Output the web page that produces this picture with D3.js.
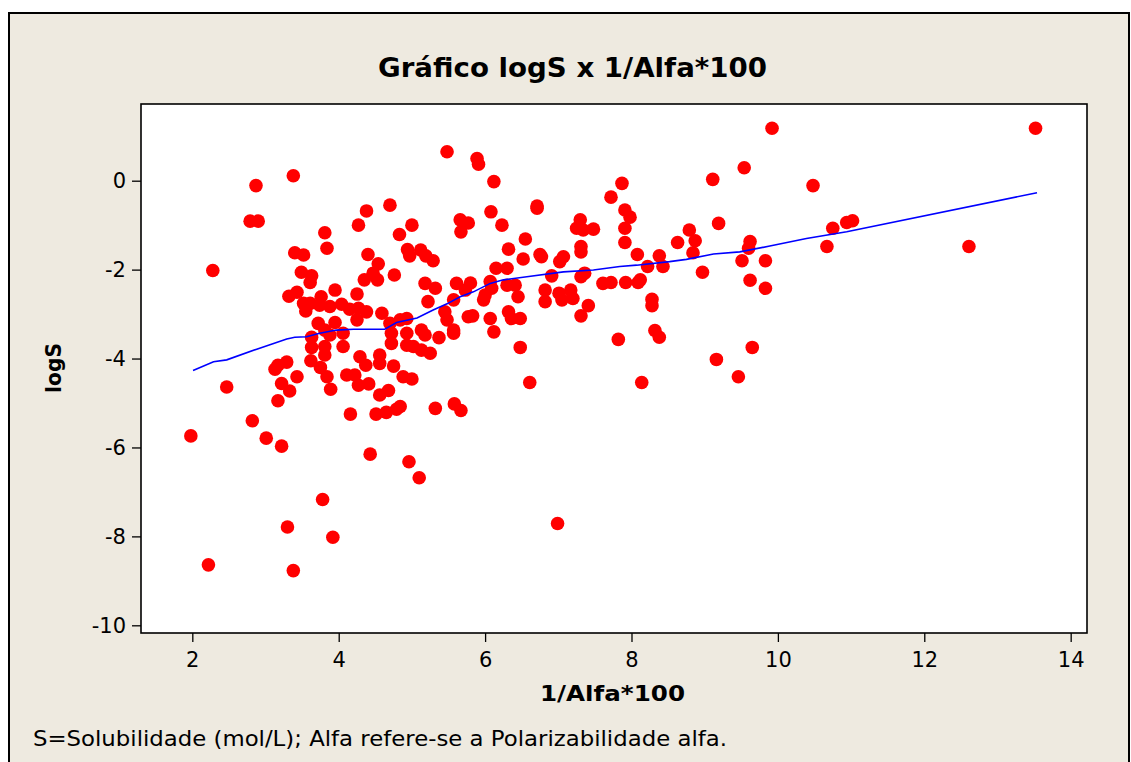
<!DOCTYPE html>
<html>
<head>
<meta charset="utf-8">
<script src="https://cdn.jsdelivr.net/npm/d3@7"></script>
<style>
  body { margin: 0; background: #ffffff; }
  svg { display: block; }
  text { font-family: "DejaVu Sans", Verdana, sans-serif; fill: #000; }
</style>
</head>
<body>
<svg width="1131" height="762"></svg>
<script>
// scatter data: 1/Alfa*100 vs logS
var alfaInv = [
  1.98, 2.22, 2.28, 2.47, 2.82, 3.01, 3.22, 2.87, 2.79, 2.90,
  3.38, 3.40, 3.52, 3.49, 3.32, 3.43, 3.52, 3.55, 3.63, 3.63,
  3.62, 3.17, 3.29, 3.13, 3.43, 3.22, 3.33, 3.17, 3.30, 3.38,
  5.48, 4.38, 4.27, 4.70, 3.81, 3.84, 5.00, 4.83, 4.40, 4.54,
  4.94, 4.97, 5.12, 5.19, 5.29, 5.66, 5.77, 5.67, 3.63, 3.61,
  4.47, 4.53, 4.35, 4.76, 3.95, 4.25, 3.76, 3.61, 3.74, 3.88,
  4.04, 4.15, 4.27, 4.38, 4.25, 4.59, 3.72, 3.95, 3.81, 3.88,
  3.81, 3.81, 4.06, 4.06, 3.75, 4.29, 4.37, 4.56, 4.56, 4.75,
  4.70, 4.72, 4.72, 4.84, 4.93, 4.93, 4.93, 5.02, 5.13, 5.18,
  5.13, 5.25, 5.37, 5.18, 5.32, 5.22, 5.57, 5.45, 5.48, 5.57,
  5.57, 5.61, 5.73, 5.77, 3.84, 3.89, 4.11, 4.22, 4.27, 4.41,
  4.88, 5.00, 4.56, 4.68, 4.16, 4.51, 4.65, 4.79, 4.84, 5.32,
  5.58, 5.67, 4.43, 4.96, 5.10, 3.78, 3.92, 5.89, 5.91, 6.12,
  6.08, 6.71, 6.71, 6.23, 6.55, 6.32, 6.52, 6.75, 6.77, 7.07,
  7.02, 7.30, 7.25, 7.34, 7.48, 7.31, 7.31, 7.36, 7.31, 7.87,
  7.72, 7.91, 7.98, 7.91, 7.91, 6.15, 6.30, 6.07, 6.09, 5.80,
  5.98, 6.00, 6.30, 6.41, 6.45, 6.91, 6.82, 6.82, 7.01, 7.05,
  7.17, 7.20, 7.41, 7.31, 7.61, 7.72, 7.92, 5.83, 6.07, 6.12,
  6.32, 6.36, 6.48, 6.48, 7.82, 6.61, 6.99, 9.92, 9.54, 9.11,
  10.48, 9.19, 8.79, 8.87, 8.63, 8.84, 9.62, 9.60, 9.51, 9.83,
  8.08, 8.38, 8.43, 8.22, 8.09, 8.12, 8.28, 8.28, 8.97, 9.62,
  9.83, 8.32, 8.38, 9.65, 9.16, 10.67, 10.75, 10.94, 11.02, 8.14,
  9.46, 13.52, 12.61
];
var logS = [
  -5.74, -8.64, -2.02, -4.64, -5.40, -5.79, -5.97, -0.11, -0.91, -0.91,
  0.11, -1.62, -1.67, -2.06, -2.60, -2.51, -2.76, -2.93, -3.52, -3.75,
  -4.05, -4.15, -4.08, -4.24, -4.41, -4.56, -4.73, -4.95, -7.79, -8.77,
  0.65, -0.68, -1.00, -0.55, -1.17, -1.52, -1.00, -1.21, -1.66, -1.87,
  -1.55, -1.69, -1.56, -1.69, -1.80, -0.88, -0.95, -1.15, -2.14, -2.29,
  -2.08, -2.23, -2.23, -2.12, -2.46, -2.55, -2.61, -2.76, -2.80, -2.83,
  -2.78, -2.89, -2.87, -2.95, -3.13, -2.98, -3.21, -3.19, -3.36, -3.47,
  -3.73, -3.92, -3.43, -3.73, -4.20, -3.96, -4.15, -3.92, -4.11, -4.17,
  -3.21, -3.43, -3.66, -3.13, -3.10, -3.43, -3.70, -3.73, -3.36, -3.47,
  -3.81, -3.88, -3.53, -2.31, -2.42, -2.72, -2.68, -2.95, -3.13, -3.36,
  -3.43, -2.31, -2.46, -3.06, -4.41, -4.69, -4.37, -4.37, -4.60, -4.57,
  -4.41, -4.46, -4.82, -4.72, -5.25, -5.25, -5.21, -5.14, -5.08, -5.12,
  -5.02, -5.17, -6.15, -6.32, -6.68, -7.17, -8.02, 0.50, 0.37, -0.02,
  -0.70, -0.57, -0.62, -1.00, -1.31, -1.54, -1.76, -1.66, -1.71, -1.71,
  -1.82, -0.88, -1.07, -1.11, -1.09, -1.48, -1.60, -2.08, -2.16, -0.06,
  -0.37, -0.66, -0.82, -1.07, -1.39, -1.97, -1.97, -2.27, -2.42, -2.30,
  -2.68, -2.57, -2.35, -2.35, -2.61, -2.14, -2.46, -2.72, -2.53, -2.68,
  -2.46, -2.65, -2.81, -3.04, -2.31, -2.29, -2.29, -3.04, -3.10, -3.40,
  -2.95, -3.10, -3.10, -3.75, -3.57, -4.54, -7.71, 1.18, 0.29, 0.03,
  -0.11, -0.96, -1.11, -1.35, -1.39, -1.62, -1.37, -1.52, -1.80, -1.80,
  -1.66, -1.69, -1.93, -1.93, -2.29, -2.23, -2.67, -2.81, -2.06, -2.24,
  -2.42, -3.37, -3.52, -3.75, -4.02, -1.48, -1.07, -0.94, -0.90, -4.54,
  -4.41, 1.18, -1.48
];

// smoothed (lowess) curve as drawn
var smoothX = [2.01, 2.29, 2.47, 2.88, 3.04, 3.29, 3.40, 3.56, 3.74, 3.97, 4.20, 4.63,
  4.79, 5.07, 5.29, 5.48, 5.66, 5.84, 6.07, 6.25, 6.57, 7.07, 7.48, 7.84, 8.07,
  8.52, 8.75, 9.12, 9.48, 9.89, 10.39, 10.94, 13.54];
var smoothY = [-4.27, -4.07, -4.03, -3.79, -3.70, -3.56, -3.52, -3.51, -3.43, -3.36, -3.34, -3.34,
  -3.19, -3.09, -2.91, -2.77, -2.61, -2.50, -2.31, -2.23, -2.16, -2.05, -2.01, -1.93, -1.90,
  -1.82, -1.77, -1.65, -1.60, -1.47, -1.30, -1.15, -0.27];

var xTicks = [2, 4, 6, 8, 10, 12, 14];
var yTicks = [0, -2, -4, -6, -8, -10];

var titleText = "Gráfico logS x 1/Alfa*100";
var xLabel = "1/Alfa*100";
var yLabel = "logS";
var footText = "S=Solubilidade (mol/L); Alfa refere-se a Polarizabilidade alfa.";

function main() {
  var svg = d3.select("svg");
  var plot = {left: 141, top: 104, width: 946, height: 529};

  // outer frame
  svg.append("rect")
    .attr("x", 9).attr("y", 13)
    .attr("width", 1120).attr("height", 800)
    .attr("fill", "#eeeae0")
    .attr("stroke", "#000").attr("stroke-width", 2);

  svg.append("rect")
    .attr("x", plot.left).attr("y", plot.top)
    .attr("width", plot.width).attr("height", plot.height)
    .attr("fill", "#fff");

  var xScale = d3.scaleLinear().domain([1.299, 14.223])
    .range([plot.left, plot.left + plot.width]);
  var yScale = d3.scaleLinear().domain([-10.173, 1.725])
    .range([plot.top + plot.height, plot.top]);

  // plain hyphen for negatives, like the original
  var fmt = d => String(d);

  var xAxis = d3.axisBottom(xScale).tickValues(xTicks).tickFormat(fmt).tickSize(9).tickPadding(10);
  var yAxis = d3.axisLeft(yScale).tickValues(yTicks).tickFormat(fmt).tickSize(9).tickPadding(6);

  var gx = svg.append("g")
    .attr("transform", "translate(0," + (plot.top + plot.height) + ")")
    .call(xAxis);
  var gy = svg.append("g")
    .attr("transform", "translate(" + plot.left + ",0)")
    .call(yAxis);

  [gx, gy].forEach(function(g) {
    g.select(".domain").remove();
    g.selectAll(".tick line").attr("stroke", "#000").attr("stroke-width", 1.3);
    g.selectAll(".tick text")
      .style("font-family", "DejaVu Sans, Verdana, sans-serif")
      .style("font-size", "21px").attr("fill", "#000");
  });

  var canvas = svg.append("g");

  // points
  canvas.selectAll("circle").data(alfaInv).enter().append("circle")
    .attr("cx", d => xScale(d))
    .attr("cy", (d, i) => yScale(logS[i]))
    .attr("r", 6.8)
    .attr("fill", "#ff0000");

  // smoother
  var line = d3.line()
    .x(d => xScale(d))
    .y((d, i) => yScale(smoothY[i]));
  canvas.append("path").datum(smoothX)
    .attr("d", line)
    .attr("fill", "none")
    .attr("stroke", "#0000ff")
    .attr("stroke-width", 1.6);

  // plot border
  svg.append("rect")
    .attr("x", plot.left).attr("y", plot.top)
    .attr("width", plot.width).attr("height", plot.height)
    .attr("fill", "none")
    .attr("stroke", "#000").attr("stroke-width", 1.6);

  // texts
  svg.append("text")
    .attr("x", 572.5).attr("y", 77)
    .attr("text-anchor", "middle")
    .attr("textLength", 389).attr("lengthAdjust", "spacingAndGlyphs")
    .style("font-size", "26px").style("font-weight", "bold")
    .text(titleText);

  svg.append("text")
    .attr("x", 612.5).attr("y", 701)
    .attr("text-anchor", "middle")
    .attr("textLength", 145).attr("lengthAdjust", "spacingAndGlyphs")
    .style("font-size", "22px").style("font-weight", "bold")
    .text(xLabel);

  svg.append("text")
    .attr("transform", "translate(61,368) rotate(-90)")
    .attr("text-anchor", "middle")
    .attr("textLength", 50).attr("lengthAdjust", "spacingAndGlyphs")
    .style("font-size", "21px").style("font-weight", "bold")
    .text(yLabel);

  svg.append("text")
    .attr("x", 33).attr("y", 746)
    .attr("textLength", 694).attr("lengthAdjust", "spacingAndGlyphs")
    .style("font-size", "21px")
    .text(footText);
}

window.onload = function() {
  main()
};
</script>
</body>
</html>
